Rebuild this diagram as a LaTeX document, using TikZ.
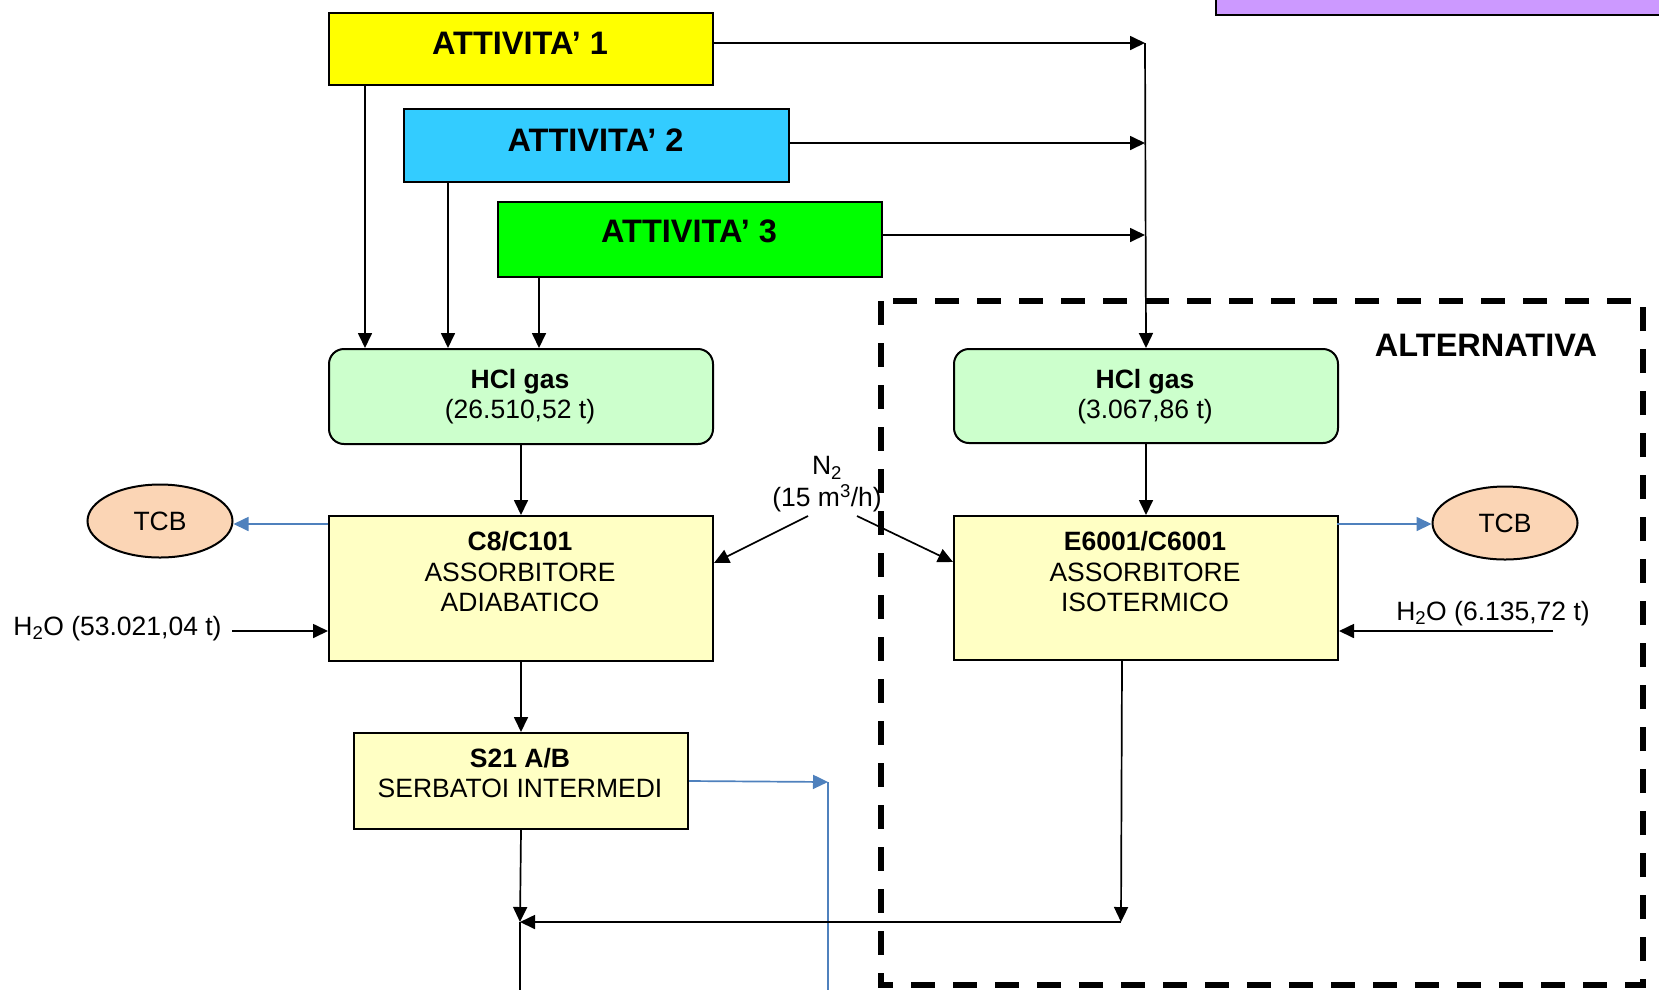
\documentclass[tikz,border=0pt]{standalone}
\usepackage{fontspec}
\setmainfont{Liberation Sans}
\usetikzlibrary{arrows.meta,shapes.geometric}
\definecolor{actyellow}{HTML}{FFFF00}
\definecolor{actcyan}{HTML}{33CCFF}
\definecolor{actgreen}{HTML}{00FF00}
\definecolor{gasgreen}{HTML}{CCFFCC}
\definecolor{unityellow}{HTML}{FFFFC4}
\definecolor{tcbpeach}{HTML}{FBD5B5}
\definecolor{legendpurple}{HTML}{CC99FF}
\definecolor{flowblue}{HTML}{4F81BD}
\begin{document}
\begin{tikzpicture}[x=1pt,y=-1pt,
  box/.style={draw=black, line width=2pt, rectangle, inner sep=0pt, anchor=north west},
  gasbox/.style={box, fill=gasgreen, rounded corners=15pt},
  unitbox/.style={box, fill=unityellow},
  tcb/.style={draw=black, line width=2pt, ellipse, fill=tcbpeach, inner sep=0pt,
    minimum width=145pt, minimum height=73pt, font=\fontsize{26.5}{30}\selectfont},
  title/.style={inner sep=0pt, font=\fontsize{32.5}{36}\selectfont\bfseries},
  boxtext/.style={inner sep=0pt, anchor=north, align=center, font=\fontsize{26.5}{30.5}\selectfont},
  flowtext/.style={inner sep=0pt, font=\fontsize{26.5}{30}\selectfont},
  line/.style={line width=1.7pt},
  conn/.style={line width=1.7pt, -{Triangle[length=15pt,width=14pt]}},
  blueline/.style={line width=1.7pt, draw=flowblue},
  blueconn/.style={blueline, -{Triangle[length=15pt,width=14pt]}},
  dashbox/.style={line width=6pt, dash pattern=on 24pt off 18pt},
]
\useasboundingbox (0,0) rectangle (1659,989);
\clip (0,0) rectangle (1659,989);

% legend box at the top right
\node[box, fill=legendpurple, minimum width=470pt, minimum height=40pt] (legend) at (1215,-26) {};

% activities
\node[box, fill=actyellow, minimum width=384pt, minimum height=72pt] (a1) at (328,12) {};
\node[title] (a1t) at (520,43) {ATTIVITA’ 1};
\node[box, fill=actcyan, minimum width=385pt, minimum height=73pt] (a2) at (403,108) {};
\node[title] (a2t) at (595.5,140) {ATTIVITA’ 2};
\node[box, fill=actgreen, minimum width=384pt, minimum height=75pt] (a3) at (497,201) {};
\node[title] (a3t) at (689,231) {ATTIVITA’ 3};

% HCl gas feeds
\node[gasbox, minimum width=384pt, minimum height=95pt] (hcl1) at (328,348) {};
\node[boxtext] (hcl1t) at (520,369) {\textbf{HCl gas}\\(26.510,52 t)};
\node[gasbox, minimum width=384pt, minimum height=94pt] (hcl2) at (953,348) {};
\node[boxtext] (hcl2t) at (1145,369) {\textbf{HCl gas}\\(3.067,86 t)};

% absorbers
\node[unitbox, minimum width=384pt, minimum height=145pt] (c8) at (328,515) {};
\node[boxtext] (c8t) at (520,531.5) {\textbf{C8/C101}\\ASSORBITORE\\ADIABATICO};
\node[unitbox, minimum width=384pt, minimum height=144pt] (e6) at (953,515) {};
\node[boxtext] (e6t) at (1145,531.5) {\textbf{E6001/C6001}\\ASSORBITORE\\ISOTERMICO};

% intermediate tanks
\node[unitbox, minimum width=334pt, minimum height=96pt] (s21) at (353,732) {};
\node[boxtext] (s21t) at (520,748) {\textbf{S21 A/B}\\SERBATOI INTERMEDI};

% TCB outlets
\node[tcb] (tcbL) at (160,521) {TCB};
\node[tcb] (tcbR) at (1505,523) {TCB};

% labels
\node[title] (alt) at (1486,345.5) {ALTERNATIVA};
\node[flowtext, anchor=base] (h2oL) at (117.5,635) {H\textsubscript{2}O (53.021,04 t)};
\node[flowtext, anchor=base] (h2oR) at (1493,620) {H\textsubscript{2}O (6.135,72 t)};
\node[inner sep=0pt, anchor=north, align=center, font=\fontsize{26.5}{32}\selectfont] (n2)
  at (827,456.5) {N\textsubscript{2}\\(15 m\textsuperscript{3}/h)};

% activity outputs to the collector line
\coordinate (b1) at (1145,43);
\coordinate (b2) at (1145,143);
\coordinate (b3) at (1145,235);
\draw[conn] (a1.east |- b1) -- (b1);
\draw[conn] (a2.east |- b2) -- (b2);
\draw[conn] (a3.east |- b3) -- (b3);
\draw[conn] (b1) -- (hcl2.north);

% activity outputs down to the left HCl feed
\draw[conn] ([xshift=37pt]a1.south west) -- ([xshift=37pt]a1.south west |- hcl1.north);
\draw[conn] ([xshift=45pt]a2.south west) -- ([xshift=45pt]a2.south west |- hcl1.north);
\draw[conn] ([xshift=42pt]a3.south west) -- ([xshift=42pt]a3.south west |- hcl1.north);

% gas to absorbers
\draw[conn] (hcl1.south) -- (c8.north);
\draw[conn] (hcl2.south) -- (e6.north);

% nitrogen
\coordinate (n2l) at (808,516);
\coordinate (n2r) at (857,516);
\draw[conn] (n2l) -- ([yshift=-48pt]c8.north east);
\draw[conn] (n2r) -- ([yshift=-47pt]e6.north west);

% water feeds
\coordinate (wl) at (232,631);
\coordinate (wr) at (1553,631);
\draw[conn] (wl) -- (wl -| c8.west);
\draw[conn] (wr) -- (wr -| e6.east);

% TCB vents
\coordinate (vl) at (328,524);
\coordinate (vr) at (1337,524);
\draw[blueconn] (vl) -- (tcbL.east |- vl);
\draw[blueconn] (vr) -- (tcbR.west |- vr);

% tanks and product lines
\draw[conn] (c8.south) -- (s21.north);
\coordinate (bt) at (828,782);
\coordinate (bb) at (828,995);
\draw[blueconn] (s21.east) -- (bt);
\draw[blueline] (bt) -- (bb);

\coordinate (j1) at (1121,922);
\coordinate (j2) at (520,922);
\coordinate (jb) at (520,995);
\draw[conn] ([xshift=-24pt]e6.south) -- (j1);
\draw[conn] (j1) -- (j2);
\draw[conn] (s21.south) -- (j2);
\draw[line] (j2) -- (jb);

% alternative section frame
\draw[dashbox] (881,301) rectangle (1643,985);
\end{tikzpicture}
\end{document}
